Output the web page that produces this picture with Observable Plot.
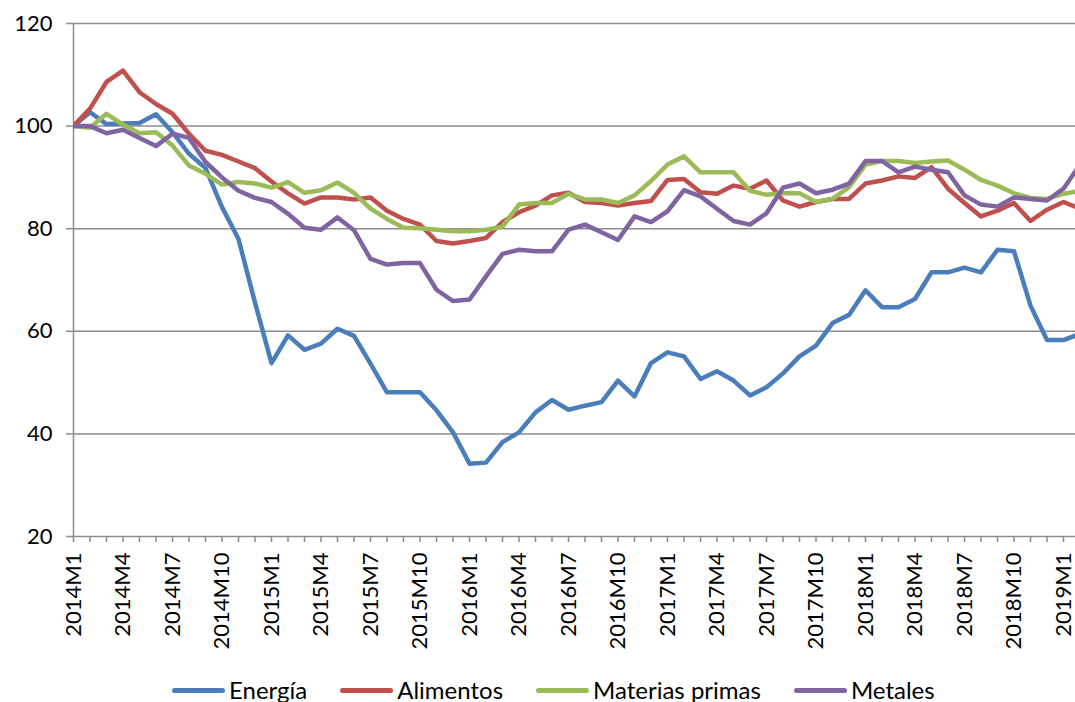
<!DOCTYPE html>
<html>
<head>
<meta charset="utf-8">
<script src="https://cdn.jsdelivr.net/npm/d3@7"></script>
<script src="https://cdn.jsdelivr.net/npm/@observablehq/plot@0.6"></script>
<style>
  html, body { margin: 0; padding: 0; background: #fff; overflow: hidden; }
  body { width: 1075px; height: 702px; font-family: Lato, "Open Sans", sans-serif; color: #000; }
  #legend { display: flex; justify-content: flex-start; align-items: center; gap: 33px; margin-top: 8px; padding-left: 172px; font-size: 24px; line-height: 24px; white-space: nowrap; }
  .item { display: flex; align-items: center; gap: 4px; }
  .sw { width: 53px; height: 5px; border-radius: 3px; }
</style>
</head>
<body>
<div id="chart"></div>
<div id="legend"></div>
<script>
// Monthly index 2014M1 (0) ... 2019M2 (61)
const seriesNames = ["Energía", "Alimentos", "Materias primas", "Metales"];
const seriesColors = ["#4a7ebb", "#c0504d", "#9bbb59", "#8064a2"];

const energia = [100, 102.7, 100.4, 100.5, 100.6, 102.3, 98.8, 94.6, 91.8, 84.2, 78.0, 65.6, 53.8,
  59.2, 56.4, 57.6, 60.5, 59.1, 53.7, 48.1, 48.1, 48.1, 44.6, 40.3, 34.2,
  34.4, 38.4, 40.3, 44.2, 46.6, 44.7, 45.5, 46.2, 50.4, 47.3, 53.8, 55.9,
  55.1, 50.7, 52.2, 50.4, 47.5, 49.1, 51.8, 55.1, 57.2, 61.6, 63.2, 68.0,
  64.7, 64.7, 66.3, 71.5, 71.5, 72.4, 71.5, 75.9, 75.6, 65.0, 58.3, 58.3, 59.5];

const alimentos = [100, 103.4, 108.6, 110.8, 106.6, 104.3, 102.4, 98.5, 95.2, 94.4, 93.1, 91.8, 89.2,
  86.9, 84.9, 86.1, 86.1, 85.7, 86.1, 83.5, 81.9, 80.8, 77.6, 77.1, 77.6,
  78.2, 81.3, 83.2, 84.5, 86.5, 87.0, 85.2, 85.0, 84.5, 85.0, 85.4, 89.5,
  89.7, 87.1, 86.8, 88.4, 87.8, 89.4, 85.5, 84.3, 85.2, 85.8, 85.8, 88.8,
  89.4, 90.2, 89.9, 92.0, 87.8, 85.0, 82.4, 83.5, 85.0, 81.5, 83.7, 85.2, 83.9];

const materias = [100, 99.7, 102.4, 100.3, 98.6, 98.8, 96.2, 92.3, 90.7, 88.6, 89.1, 88.8, 88.0,
  89.1, 87.0, 87.5, 89.0, 87.0, 83.9, 81.9, 80.2, 80.1, 79.8, 79.5, 79.5,
  79.8, 80.4, 84.7, 85.0, 85.0, 86.8, 85.7, 85.7, 85.0, 86.5, 89.3, 92.5,
  94.1, 91.0, 91.0, 91.0, 87.4, 86.6, 86.9, 86.9, 85.2, 85.8, 88.1, 92.5,
  93.2, 93.2, 92.8, 93.1, 93.3, 91.5, 89.5, 88.4, 86.9, 86.0, 85.8, 86.8, 87.4];

const metales = [100, 100, 98.6, 99.3, 97.7, 96.1, 98.5, 97.7, 93.0, 90.0, 87.4, 86.0, 85.2,
  82.9, 80.2, 79.8, 82.2, 79.7, 74.1, 73.0, 73.3, 73.3, 68.1, 65.9, 66.2,
  70.7, 75.1, 75.9, 75.6, 75.6, 79.8, 80.8, 79.3, 77.8, 82.4, 81.3, 83.4,
  87.5, 86.3, 83.9, 81.5, 80.8, 83.0, 88.0, 88.8, 86.9, 87.6, 88.8, 93.2,
  93.2, 91.0, 92.1, 91.5, 91.0, 86.5, 84.7, 84.3, 86.1, 85.8, 85.5, 87.8, 92.5];

const tickLabels = ["2014M1","2014M4","2014M7","2014M10","2015M1","2015M4","2015M7","2015M10",
  "2016M1","2016M4","2016M7","2016M10","2017M1","2017M4","2017M7","2017M10",
  "2018M1","2018M4","2018M7","2018M10","2019M1"];
const yTicks = [20, 40, 60, 80, 100, 120];

const allSeries = [energia, alimentos, materias, metales];
const data = allSeries.flatMap((vals, s) => vals.map((v, i) => ({i, v, s: seriesNames[s]})));
const labelPos = tickLabels.map((t, k) => k * 3);
const monthTicks = d3.range(0, 61);

const grid = "#8c8c8c";
const chart = Plot.plot({
  width: 1075,
  height: 670,
  marginLeft: 73,
  marginRight: 0,
  marginTop: 23,
  marginBottom: 134,
  style: {fontFamily: "Lato, 'Open Sans', sans-serif", color: "#000", background: "#fff"},
  x: {domain: [0, 1002 / 16.5], axis: null},
  y: {domain: [20, 120], axis: null},
  color: {domain: seriesNames, range: seriesColors},
  marks: [
    Plot.ruleY(yTicks, {stroke: grid, strokeWidth: 1.5}),
    Plot.ruleX([0], {stroke: grid, strokeWidth: 1.5}),
    Plot.axisY({ticks: yTicks, label: null, tickSize: 7, tickPadding: 14, fontSize: 22, stroke: grid, strokeWidth: 1.5, fill: "#000", tickFormat: d => String(d)}),
    Plot.axisX({ticks: monthTicks, label: null, tickSize: 6, stroke: grid, strokeWidth: 1.5, tickFormat: () => ""}),
    Plot.text(labelPos, {x: d => d, y: 20, text: (d, k) => tickLabels[k], rotate: -90, textAnchor: "end", lineAnchor: "middle", dy: 16, fontSize: 22, fill: "#000"}),
    Plot.line(data, {x: "i", y: "v", z: "s", stroke: "s", strokeWidth: 4.5, clip: true, strokeLinejoin: "round"})
  ]
});
document.getElementById("chart").appendChild(chart);

const legend = document.getElementById("legend");
seriesNames.forEach((name, k) => {
  const item = document.createElement("div");
  item.className = "item";
  const sw = document.createElement("div");
  sw.className = "sw";
  sw.style.background = seriesColors[k];
  const label = document.createElement("span");
  label.textContent = name;
  item.appendChild(sw);
  item.appendChild(label);
  legend.appendChild(item);
});
</script>
</body>
</html>
